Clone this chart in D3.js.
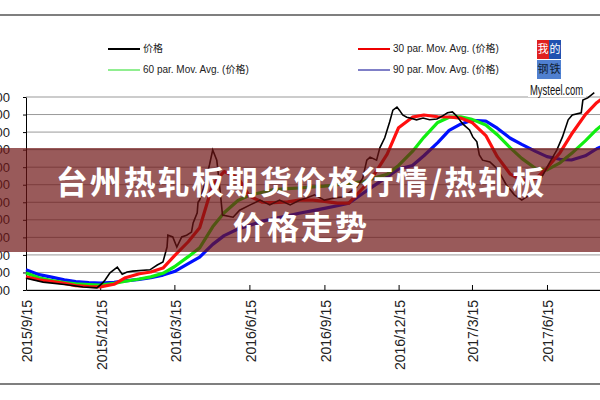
<!DOCTYPE html>
<html>
<head>
<meta charset="utf-8">
<script src="https://cdn.jsdelivr.net/npm/d3@7"></script>
<style>
  body { margin: 0; background: white; }
  svg { display: block; }
</style>
</head>
<body>
<div id="chart"></div>
<script>
// price data
const priceDates = ['2015-09-15','2015-10-06','2015-11-04','2015-11-24','2015-12-11','2015-12-18','2015-12-21','2015-12-27',
  '2016-01-05','2016-01-11','2016-01-17','2016-01-24','2016-02-14','2016-02-23','2016-03-01','2016-03-06','2016-03-07',
  '2016-03-13','2016-03-18','2016-03-24','2016-03-30','2016-04-05','2016-04-07','2016-04-12','2016-04-13','2016-04-15',
  '2016-04-21','2016-04-27','2016-05-01','2016-05-06','2016-05-10','2016-05-13','2016-05-26','2016-06-03','2016-06-16',
  '2016-06-28','2016-07-10','2016-07-22','2016-08-04','2016-08-16','2016-08-24','2016-09-03','2016-09-15','2016-09-28',
  '2016-10-07','2016-10-16','2016-10-25','2016-11-01','2016-11-06','2016-11-10','2016-11-18','2016-11-22','2016-11-28',
  '2016-12-04','2016-12-08','2016-12-13','2016-12-16','2016-12-20','2016-12-25','2016-12-29','2017-01-06','2017-01-14',
  '2017-01-22','2017-01-31','2017-02-07','2017-02-13','2017-02-19','2017-02-24','2017-03-04','2017-03-12','2017-03-16',
  '2017-03-21','2017-03-24','2017-03-28','2017-04-06','2017-04-14','2017-04-18','2017-04-26','2017-05-06','2017-05-15',
  '2017-05-25','2017-06-03','2017-06-12','2017-06-18','2017-06-27','2017-07-04','2017-07-11','2017-07-16','2017-07-27',
  '2017-07-29','2017-08-04','2017-08-12']
const priceValues = [1935,1890,1860,1835,1825,1880,1915,1995,
  2060,1980,2005,2015,2030,2085,2120,2290,2425,
  2405,2290,2405,2425,2460,2565,2680,2800,2825,
  3000,3225,3395,3280,2940,2655,2630,2710,2770,
  2825,2770,2825,2770,2825,2850,2885,2825,2850,
  2860,2915,2975,3075,3280,3315,3280,3420,3535,
  3715,3850,3885,3850,3795,3770,3760,3740,3760,
  3740,3750,3785,3820,3830,3785,3690,3625,3545,
  3490,3340,3280,3260,3190,3135,3000,2885,2825,
  2885,3000,3145,3250,3395,3545,3740,3795,3820,
  3965,3990,4050]

// moving averages, sampled twice a month
const maDates = ['2015-09-15','2015-10-01','2015-10-15','2015-11-01','2015-11-15','2015-12-01','2015-12-15',
  '2016-01-01','2016-01-15','2016-02-01','2016-02-15','2016-03-01','2016-03-15','2016-04-01','2016-04-15',
  '2016-05-01','2016-05-15','2016-06-01','2016-06-15','2016-07-01','2016-07-15','2016-08-01','2016-08-15',
  '2016-09-01','2016-09-15','2016-10-01','2016-10-15','2016-11-01','2016-11-15','2016-12-01','2016-12-15',
  '2017-01-01','2017-01-15','2017-02-01','2017-02-15','2017-03-01','2017-03-15','2017-04-01','2017-04-15',
  '2017-05-01','2017-05-15','2017-06-01','2017-06-15','2017-07-01','2017-07-15','2017-08-01','2017-08-15','2017-09-01']
const ma30 = [1950,1915,1900,1875,1850,1840,1835,
  1865,1940,1985,2005,2050,2190,2350,2510,
  3000,3150,3080,2870,2800,2795,2805,2825,
  2825,2810,2790,2790,2960,3115,3350,3650,
  3770,3795,3775,3772,3760,3710,3560,3320,
  3120,3050,3070,3190,3365,3575,3800,3935,4050]
const ma60 = [1995,1940,1910,1885,1870,1862,1857,
  1875,1900,1925,1950,1990,2065,2180,2280,
  2520,2680,2820,2880,2915,2945,2955,2963,
  2975,2985,3000,3015,3035,3075,3120,3220,
  3380,3540,3710,3770,3775,3745,3680,3570,
  3420,3300,3185,3170,3250,3355,3500,3630,3760]
const ma90 = [2030,1975,1950,1915,1895,1885,1880,
  1888,1903,1922,1940,1970,2010,2100,2175,
  2320,2420,2495,2535,2585,2615,2645,2675,
  2705,2730,2760,2790,2900,2990,3090,3180,
  3220,3330,3480,3620,3690,3735,3725,3645,
  3530,3460,3380,3320,3290,3282,3330,3410,3480]

const xTicks = ['2015-09-15','2015-12-15','2016-03-15','2016-06-15','2016-09-15','2016-12-15','2017-03-15','2017-06-15']
const yTicks = [1800,2000,2200,2400,2600,2800,3000,3200,3400,3600,3800,4000]

const parse = d3.timeParse('%Y-%m-%d')
const fmt = d3.timeFormat('%Y/%-m/%-d')

const width = 600, height = 400
const svg = d3.select('#chart').append('svg')
  .attr('width', width)
  .attr('height', height)
  .style('background-color', 'white')

// outer frame lines
svg.append('line').attr('x1', 0).attr('x2', width).attr('y1', 15).attr('y2', 15)
  .style('stroke', '#555').style('stroke-width', 1.5)
svg.append('line').attr('x1', 0).attr('x2', width).attr('y1', 384).attr('y2', 384)
  .style('stroke', '#555').style('stroke-width', 1.5)

const x = d3.scaleTime()
  .domain([parse('2015-09-15'), parse('2017-09-15')])
  .range([26, 622])
const y = d3.scaleLinear()
  .domain([1800, 4000])
  .range([290, 97])

// grid
svg.append('g')
  .selectAll('line')
  .data(yTicks)
  .join('line')
  .attr('x1', 26).attr('x2', width)
  .attr('y1', d => y(d)).attr('y2', d => y(d))
  .style('stroke', '#999').style('stroke-width', 1)

// y axis, labels sit past the left edge like the picture
const yAxis = svg.append('g')
  .attr('transform', 'translate(26,0)')
  .call(d3.axisLeft(y).tickValues(yTicks).tickSizeInner(3).tickSizeOuter(0).tickPadding(13))
yAxis.select('.domain').style('stroke', '#000')
yAxis.selectAll('text').style('font-family', 'Arial, "Liberation Sans", sans-serif')
  .style('font-size', '13px').style('fill', '#222')

// x axis
const xAxis = svg.append('g')
  .attr('transform', 'translate(0,290)')
  .call(d3.axisBottom(x).tickValues(xTicks.map(parse)).tickFormat(fmt).tickSizeInner(-5).tickSizeOuter(0))
xAxis.select('.domain').style('stroke', '#000')
xAxis.selectAll('text')
  .style('font-family', 'Arial, "Liberation Sans", sans-serif')
  .style('font-size', '14px')
  .style('fill', '#222')
  .style('text-anchor', 'end')
  .attr('transform', 'rotate(-90)')
  .attr('x', -10)
  .attr('y', 1)
  .attr('dy', '0.35em')

// series lines
const line = d3.line().x(d => x(d[0])).y(d => y(d[1]))

const maSeries = [
  { values: ma90, color: '#0010ff', width: 3.2 },
  { values: ma60, color: '#11ee11', width: 3.2 },
  { values: ma30, color: '#ff1010', width: 3.2 }
]
maSeries.forEach(s => {
  svg.append('path')
    .datum(maDates.map((d, i) => [parse(d), s.values[i]]))
    .attr('d', line)
    .style('fill', 'none')
    .style('stroke', s.color)
    .style('stroke-width', s.width)
    .style('stroke-linejoin', 'round')
})

svg.append('path')
  .datum(priceDates.map((d, i) => [parse(d), priceValues[i]]))
  .attr('d', line)
  .style('fill', 'none')
  .style('stroke', '#000')
  .style('stroke-width', 1.6)

// legend
const legendItems = [
  { label: '价格', color: '#000', x: 108, y: 49, w: 2 },
  { label: '60 par. Mov. Avg. (价格)', color: '#22dd22', x: 108, y: 70, w: 1 },
  { label: '30 par. Mov. Avg. (价格)', color: '#ee0000', x: 358, y: 49, w: 2 },
  { label: '90 par. Mov. Avg. (价格)', color: '#000090', x: 358, y: 70, w: 1 }
]
legendItems.forEach(d => {
  svg.append('line')
    .attr('x1', d.x).attr('x2', d.x + 32)
    .attr('y1', d.y).attr('y2', d.y)
    .style('stroke', d.color).style('stroke-width', d.w)
  svg.append('text')
    .attr('x', d.x + 35).attr('y', d.y)
    .text(d.label)
    .style('font-family', 'Arial, "Liberation Sans", "Noto Sans CJK SC", sans-serif')
    .style('font-size', '10px')
    .style('fill', '#222')
    .attr('dominant-baseline', 'middle')
})

// mysteel logo
const logo = svg.append('g')
const logoCells = [
  { t: '我', x: 537, y: 40, fill: '#e02020', c: '#fff' },
  { t: '的', x: 549, y: 40, fill: '#2050b0', c: '#fff' },
  { t: '钢', x: 537, y: 60, fill: '#5080d0', c: '#123' },
  { t: '铁', x: 549, y: 60, fill: '#5080d0', c: '#123' }
]
logoCells.forEach(d => {
  logo.append('rect').attr('x', d.x).attr('y', d.y).attr('width', 12).attr('height', 19).style('fill', d.fill)
  logo.append('text').attr('x', d.x + 6).attr('y', d.y + 10).text(d.t)
    .style('font-family', '"Noto Sans CJK SC", sans-serif').style('font-size', '11px')
    .style('fill', d.c).style('text-anchor', 'middle').attr('dominant-baseline', 'middle')
})
logo.append('rect').attr('x', 528).attr('y', 81).attr('width', 58).attr('height', 16).style('fill', 'white')
logo.append('text').attr('x', 530).attr('y', 95).text('Mysteel.com')
  .style('font-family', '"Liberation Sans Narrow", Arial, sans-serif').style('font-size', '14px')
  .style('fill', '#111')
  .attr('textLength', 53).attr('lengthAdjust', 'spacingAndGlyphs')

// title banner
svg.append('rect')
  .attr('x', 0).attr('y', 148).attr('width', width).attr('height', 104)
  .style('fill', 'rgb(110,20,20)').style('opacity', 0.7)

const titleLines = ['台州热轧板期货价格行情/热轧板', '价格走势']
svg.append('g').selectAll('text')
  .data(titleLines)
  .join('text')
  .attr('x', 301)
  .attr('y', (d, i) => 180 + i * 45)
  .text(d => d)
  .style('font-family', '"Noto Sans CJK SC", sans-serif')
  .style('font-weight', 'bold')
  .style('font-size', '32px')
  .style('letter-spacing', '2px')
  .style('fill', 'white')
  .style('text-anchor', 'middle')
  .attr('dominant-baseline', 'central')
</script>
</body>
</html>
